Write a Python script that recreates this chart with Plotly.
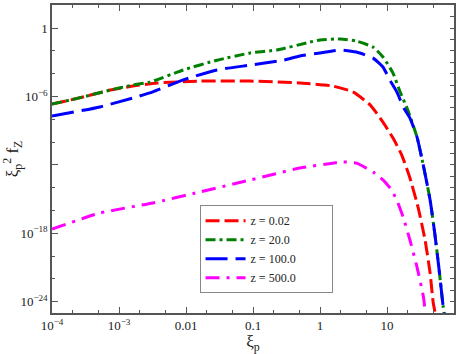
import plotly.graph_objects as go

# curve readings (x = xi_p, y = xi_p^2 f_Z)
x_z002 = [1e-4, 2.9e-4, 7.4e-4, 1.6e-3, 3.7e-3, 0.016, 0.091, 0.5, 1.55, 3.1, 5.6, 8.7,
          12.3, 16.6, 22, 29, 37, 44, 49, 57]
y_z002 = [2.1e-7, 8.9e-7, 3.6e-6, 8.1e-6, 1.5e-5, 2.2e-5, 2.2e-5, 1.5e-5, 8.1e-6, 2.5e-6,
          1.8e-7, 5.6e-9, 2.2e-10, 7.2e-12, 6.9e-14, 2e-16, 2.5e-19, 3.2e-22, 8e-25, 1e-26]

x_z20 = [1e-4, 2.9e-4, 7.4e-4, 1.6e-3, 2.9e-3, 9.1e-3, 0.029, 0.091, 0.23, 0.71, 1.0, 2.0,
         3.5, 6.2, 8.7, 12.3, 15.5, 20.4, 28, 35.5, 44, 52, 60, 69, 74]
y_z20 = [2.1e-7, 8.9e-7, 3.6e-6, 1e-5, 1.8e-5, 2.1e-4, 1.5e-3, 6.5e-3, 0.012, 0.059, 0.089,
         0.11, 0.072, 0.021, 2.9e-3, 1.1e-4, 3e-6, 6.5e-8, 2.8e-10, 5.2e-13, 8.1e-16,
         6.9e-19, 5.9e-22, 3.4e-25, 2.5e-26]

x_z100 = [1e-4, 5.2e-4, 1.6e-3, 3.2e-3, 9.1e-3, 0.029, 0.091, 0.28, 0.5, 1.0, 2.0, 3.5,
          6.2, 8.7, 11, 14, 17.8, 21.9, 28, 35.5, 44, 52, 60, 69, 74]
y_z100 = [1.9e-8, 1.2e-7, 7.2e-7, 2.5e-6, 2.8e-5, 2.1e-4, 5.6e-4, 1.5e-3, 3.5e-3, 6.5e-3,
          0.012, 7.8e-3, 2.3e-3, 3.8e-4, 2.8e-5, 2.5e-6, 9.6e-8, 1.3e-8, 2.8e-10, 5.2e-13,
          8.1e-16, 6.9e-19, 5.9e-22, 3.4e-25, 2.5e-26]

x_z500 = [1e-4, 5.2e-4, 3.2e-3, 0.016, 0.091, 0.5, 1.55, 2.2, 3.5, 6.2, 8.7, 11.7, 14,
          17.4, 22, 28, 35, 39]
y_z500 = [2.3e-18, 5.9e-17, 4.5e-16, 4.1e-15, 4.7e-14, 5.2e-13, 1.4e-12, 1.8e-12, 1.4e-12,
          2.3e-13, 4.7e-14, 6.2e-15, 8.1e-16, 2.6e-17, 2.5e-19, 1.1e-21, 2.5e-24, 1e-26]

x_ticks = [1e-4, 1e-3, 0.01, 0.1, 1, 10, 100]
x_labels = ['10<sup>−4</sup>', '10<sup>−3</sup>', '0.01', '0.1', '1', '10', '100']
y_ticks = [1, 1e-6, 1e-12, 1e-18, 1e-24]
y_labels = ['1', '10<sup>−6</sup>', '', '10<sup>−18</sup>', '10<sup>−24</sup>']
y_minor = [1e2, 1e-2, 1e-4, 1e-8, 1e-10, 1e-14, 1e-16, 1e-20, 1e-22]
y_right = [10.0 ** -k for k in range(-2, 26)]

series = [
    ('z = 0.02', x_z002, y_z002, '#ff0000', '14px,5px'),
    ('z = 20.0', x_z20, y_z20, '#008000', '10px,4px,3px,4px'),
    ('z = 100.0', x_z100, y_z100, '#0000ff', '22px,8px'),
    ('z = 500.0', x_z500, y_z500, '#ff00ff', '14px,7px,3px,7px'),
]

serif = 'Liberation Serif, Times New Roman, serif'
pad = '\u00a0' * 10

fig = go.Figure()
for name, xs, ys, color, dash in series:
    fig.add_trace(go.Scatter(
        x=xs, y=ys, mode='lines', name=name + pad,
        line=dict(color=color, width=3, dash=dash, shape='spline', smoothing=0.5),
    ))

# dummy trace so the right-hand axis gets drawn
fig.add_trace(go.Scatter(x=[1e-4], y=[1], yaxis='y2', mode='markers',
                         marker=dict(opacity=0), showlegend=False, hoverinfo='skip'))

axis_col = '#555555'

fig.update_layout(
    width=463, height=354,
    margin=dict(l=52, r=9, t=5, b=41),
    paper_bgcolor='white', plot_bgcolor='white',
    font=dict(family=serif, size=13, color='#222222'),
    showlegend=True,
    legend=dict(x=0.367, y=0.35, xanchor='left', yanchor='top',
                bordercolor='#888888', borderwidth=1, bgcolor='white',
                font=dict(family=serif, size=12, color='#222222'),
                itemwidth=40, tracegroupgap=0),
    xaxis=dict(
        type='log', range=[-4, 2], automargin=False,
        tickvals=x_ticks, ticktext=x_labels,
        ticks='inside', ticklen=6, tickcolor=axis_col, tickwidth=1,
        minor=dict(ticks='inside', ticklen=3, tickcolor=axis_col, showgrid=False),
        showline=True, linecolor=axis_col, linewidth=1.5, mirror='ticks',
        showgrid=False, zeroline=False,
        title=dict(text='ξ<sub>p</sub>', font=dict(family=serif, size=17), standoff=2),
    ),
    yaxis=dict(
        type='log', range=[-25, 2.02], automargin=False,
        tickvals=y_ticks, ticktext=y_labels,
        ticks='inside', ticklen=6, tickcolor=axis_col, tickwidth=1,
        minor=dict(tickvals=y_minor, ticks='inside', ticklen=3, tickcolor=axis_col,
                   showgrid=False),
        showline=True, linecolor=axis_col, linewidth=1.5, mirror=True,
        showgrid=False, zeroline=False,
        title=dict(text='ξ<sub>p</sub><sup>2</sup> f<sub>Z</sub>',
                   font=dict(family=serif, size=17), standoff=4),
    ),
    yaxis2=dict(
        type='log', range=[-25, 2.02], overlaying='y', side='right', automargin=False,
        tickvals=y_right, showticklabels=False,
        ticks='inside', ticklen=4, tickcolor=axis_col,
        showgrid=False, zeroline=False, showline=False,
    ),
)

# drop the default page margin so the figure sits at the window's corner
fig.write_html('out.html', config={'displayModeBar': False},
               post_script="document.body.style.margin='0';")
